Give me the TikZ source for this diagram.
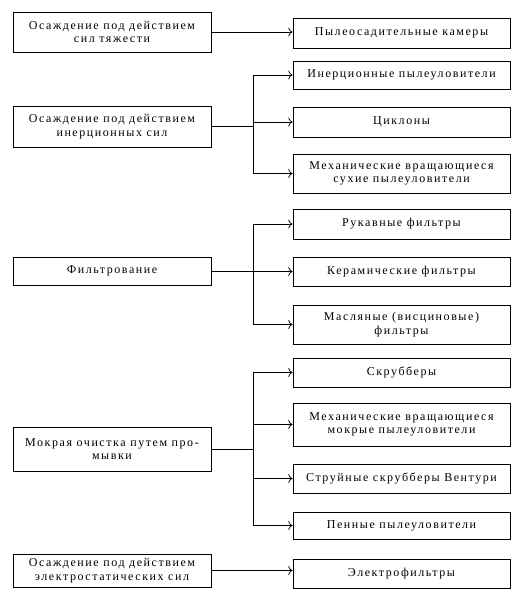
\documentclass[tikz,border=0pt]{standalone}
\usepackage{fontspec}
\setmainfont{Liberation Serif}[LetterSpace=13]
\usetikzlibrary{arrows.meta}

\begin{document}
\begin{tikzpicture}[
  x=1pt, y=-1pt,
  font=\fontsize{12}{13.5}\selectfont,
  method/.style={draw, line width=0.9pt, minimum width=198pt, align=center, inner sep=2pt},
  device/.style={draw, line width=0.9pt, minimum width=217pt, align=center, inner sep=2pt},
  arrow/.style={-{To[length=1.5mm]}, line width=0.7pt}
]
  \useasboundingbox (0,0) rectangle (520,603);
  % methods
  \node[method, minimum height=40pt] (grav) at (112,32) {Осаждение под действием\\сил тяжести};
  \node[method, minimum height=41pt] (inert) at (112,126.5) {Осаждение под действием\\инерционных сил};
  \node[method, minimum height=28pt] (filt) at (112,271) {Фильтрование};
  \node[method, minimum height=44pt] (wet) at (112,449) {Мокрая очистка путем про-\\мывки};
  \node[method, minimum height=33pt] (elec) at (112,570.5) {Осаждение под действием\\электростатических сил};
  % devices
  \node[device, minimum height=30pt] (chamb) at (401.5,33) {Пылеосадительные камеры};
  \node[device, minimum height=28pt] (inpyl) at (401.5,75) {Инерционные пылеуловители};
  \node[device, minimum height=30pt] (cycl) at (401.5,122) {Циклоны};
  \node[device, minimum height=39pt] (mechdry) at (401.5,173.5) {Механические вращающиеся\\сухие пылеуловители};
  \node[device, minimum height=30pt] (sleeve) at (401.5,224) {Рукавные фильтры};
  \node[device, minimum height=29pt] (ceram) at (401.5,271.5) {Керамические фильтры};
  \node[device, minimum height=39pt] (oil) at (401.5,324.5) {Масляные (висциновые)\\фильтры};
  \node[device, minimum height=29pt] (scrub) at (401.5,372.5) {Скрубберы};
  \node[device, minimum height=43pt] (mechwet) at (401.5,424.5) {Механические вращающиеся\\мокрые пылеуловители};
  \node[device, minimum height=29pt] (venturi) at (401.5,478.5) {Струйные скрубберы Вентури};
  \node[device, minimum height=27pt] (foam) at (401.5,525.5) {Пенные пылеуловители};
  \node[device, minimum height=29pt] (esp) at (401.5,573.5) {Электрофильтры};
  % single links
  \draw[arrow] (grav.east) -- (grav.east -| chamb.west);
  \draw[arrow] (elec.east) -- (elec.east -| esp.west);
  % branching links
  \path (inert.east) -- ++(42,0) coordinate (jinert);
  \path (filt.east) -- ++(42,0) coordinate (jfilt);
  \path (wet.east) -- ++(42,0) coordinate (jwet);
  \draw[line width=0.7pt] (inert.east) -- (jinert);
  \draw[line width=0.7pt] (filt.east) -- (jfilt);
  \draw[line width=0.7pt] (wet.east) -- (jwet);
  \draw[line width=0.7pt] (jinert |- inpyl) -- (jinert |- mechdry);
  \draw[line width=0.7pt] (jfilt |- sleeve) -- (jfilt |- oil);
  \draw[line width=0.7pt] (jwet |- scrub) -- (jwet |- foam);
  \foreach \d in {inpyl,cycl,mechdry}
    \draw[arrow] (jinert |- \d) -- (\d.west);
  \foreach \d in {sleeve,ceram,oil}
    \draw[arrow] (jfilt |- \d) -- (\d.west);
  \foreach \d in {scrub,mechwet,venturi,foam}
    \draw[arrow] (jwet |- \d) -- (\d.west);
\end{tikzpicture}
\end{document}
